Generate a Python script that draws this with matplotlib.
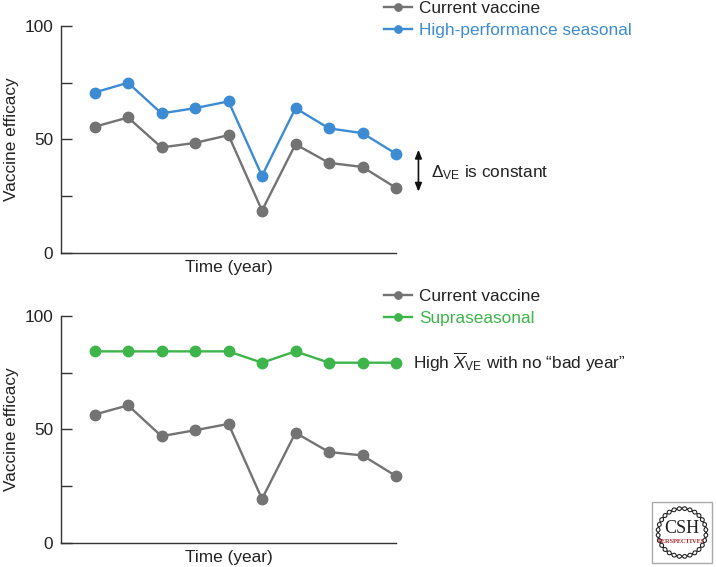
import matplotlib
matplotlib.use("Agg")
import matplotlib.pyplot as plt
import numpy as np
from matplotlib.patches import Rectangle
from matplotlib.lines import Line2D

plt.rcParams['font.family'] = ['Liberation Sans', 'DejaVu Sans']
plt.rcParams['mathtext.fontset'] = 'custom'
plt.rcParams['mathtext.rm'] = 'Liberation Sans'
plt.rcParams['mathtext.it'] = 'Liberation Sans:italic'
plt.rcParams['mathtext.bf'] = 'Liberation Sans:bold'

years = [1, 2, 3, 4, 5, 6, 7, 8, 9, 10]
current_top = [55.6, 59.7, 46.5, 48.5, 51.9, 18.7, 47.9, 39.7, 37.9, 28.7]
high_perf = [70.7, 75.0, 61.5, 63.8, 66.8, 34.0, 63.8, 54.9, 52.8, 43.7]
current_bottom = [56.5, 60.6, 47.0, 49.6, 52.4, 19.3, 48.5, 40.0, 38.5, 29.4]
supraseasonal = [84.4, 84.4, 84.4, 84.4, 84.4, 79.4, 84.4, 79.4, 79.4, 79.4]
yticks = [0, 25, 50, 75, 100]
yticklabels = ['0', '', '50', '', '100']

GRAY = '#737373'
BLUE = '#3d8bd2'
GREEN = '#3db54a'
AXC = '#333333'
TXT = '#222222'
FS = 12.4

fig = plt.figure(figsize=(7.16, 5.67), dpi=100)
W, H = 716, 567

def make_ax(top_px, bottom_px):
    ax = fig.add_axes([61 / W, 1 - bottom_px / H, 335 / W, (bottom_px - top_px) / H])
    ax.set_xlim(0, 10)
    ax.set_ylim(0, 100)
    for s in ['top', 'right']:
        ax.spines[s].set_visible(False)
    for s in ['left', 'bottom']:
        ax.spines[s].set_color(AXC)
        ax.spines[s].set_linewidth(1.0)
    ax.set_yticks(yticks)
    ax.set_yticklabels(yticklabels)
    ax.tick_params(axis='y', direction='in', length=8, width=1.0, color=AXC,
                   labelsize=FS, pad=5.5, labelcolor=TXT)
    ax.set_xticks([])
    ax.set_xlabel('Time (year)', fontsize=FS, labelpad=5, color=TXT)
    ax.set_ylabel('Vaccine efficacy', fontsize=FS, labelpad=4, color=TXT)
    return ax

ax1 = make_ax(26, 253)
ax2 = make_ax(316, 542.7)

kw = dict(marker='o', markersize=7.5, linewidth=1.7, clip_on=False, zorder=3)
ax1.plot(years, current_top, color=GRAY, label='Current vaccine', **kw)
ax1.plot(years, high_perf, color=BLUE, label='High-performance seasonal', **kw)
ax2.plot(years, current_bottom, color=GRAY, label='Current vaccine', **kw)
ax2.plot(years, supraseasonal, color=GREEN, label='Supraseasonal', **kw)

def add_legend(ax, top_px, colors):
    leg = ax.legend(loc='upper left', bbox_to_anchor=(384 / W, 1 - top_px / H),
                    bbox_transform=fig.transFigure, frameon=False, fontsize=FS,
                    handlelength=1.6, handletextpad=0.45, labelspacing=0.45,
                    borderpad=0, borderaxespad=0, markerscale=0.7)
    for t, c in zip(leg.get_texts(), colors):
        t.set_color(c)
    return leg

add_legend(ax1, 0.5, [TXT, BLUE])
add_legend(ax2, 288.5, [TXT, GREEN])

# annotation: constant delta
ax1.annotate('', xy=(10.67, 45.5), xytext=(10.67, 27.0),
             arrowprops=dict(arrowstyle='<|-|>,head_length=0.5,head_width=0.2',
                             color='#111111', lw=1.2, shrinkA=0, shrinkB=0),
             annotation_clip=False)
ax1.text(11.03, 35.5, r'$\Delta_{\mathrm{VE}}$ is constant', fontsize=FS,
         va='center', ha='left', color=TXT, clip_on=False)

ax2.text(10.52, 79.4, r'High $\overline{X}_{\mathrm{VE}}$ with no “bad year”', fontsize=FS,
         va='center', ha='left', color=TXT, clip_on=False)

# logo
lx0, ly0, lw_, lh_ = 652 / W, 1 - 563 / H, 60 / W, 61 / H
fig.add_artist(Rectangle((lx0, ly0), lw_, lh_, transform=fig.transFigure,
                         facecolor='white', edgecolor='#aaaaaa', lw=1.0))
cx, cy = lx0 + lw_ / 2, ly0 + lh_ / 2
theta = np.linspace(0, 2 * np.pi, 400)
r = 0.40 * lw_
for phase in [0, np.pi]:
    rr = r * (1 + 0.08 * np.sin(14 * theta + phase))
    fig.add_artist(Line2D(cx + rr * np.cos(theta), cy + rr * np.sin(theta) * W / H,
                          transform=fig.transFigure, color='#222222', lw=0.8))
fig.add_artist(Rectangle((cx - 0.037, cy - 0.024), 0.074, 0.044, transform=fig.transFigure,
                         facecolor='white', edgecolor='none'))
fig.text(cx, cy + 0.007, 'CSH', ha='center', va='center', fontsize=13,
         family='Liberation Serif', color='#222222')
fig.text(cx, cy - 0.015, 'PERSPECTIVES', ha='center', va='center', fontsize=4.6,
         family='Liberation Serif', color='#a31f24', weight='bold')

fig.savefig('out.png', dpi=100)
